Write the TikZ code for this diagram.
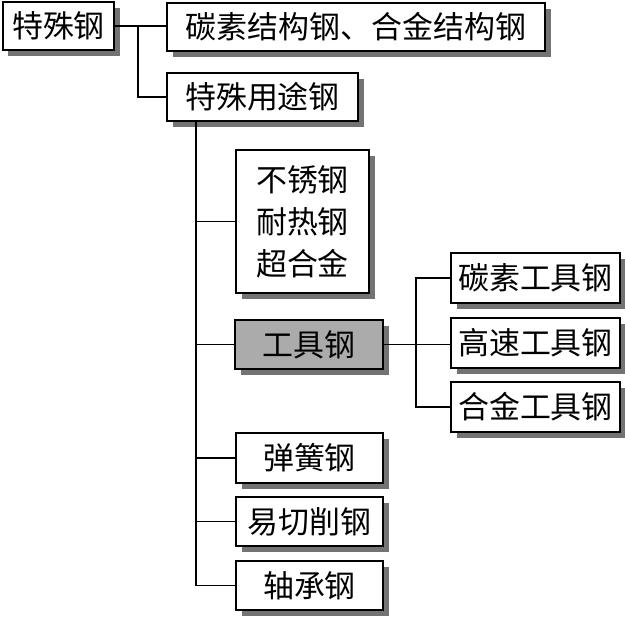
\documentclass[tikz,border=0pt]{standalone}
\usepackage{fontspec}
\newfontfamily\cjk{Noto Sans CJK SC}
\usetikzlibrary{shadows}

\begin{document}
\begin{tikzpicture}[
        box/.style ={draw, line width=1.1pt, fill=white, inner sep=0pt, align=center,
                     font=\cjk\fontsize{17.6}{24}\selectfont,
                     drop shadow={shadow xshift=0.11cm, shadow yshift=-0.11cm,
                                  fill=black!55, opacity=1}},
        link/.style={line width=1.1pt}]
    \useasboundingbox (0,0) rectangle (12.5,-12.38);

    %--- Nodes ---
    \node[box, minimum width=2.22cm, minimum height=0.96cm] (tsg)  at (1.17,-0.52) {特殊钢};
    \node[box, minimum width=7.56cm, minimum height=0.96cm] (jgg)  at (7.12,-0.54) {碳素结构钢、合金结构钢};
    \node[box, minimum width=3.82cm, minimum height=0.96cm] (ytg)  at (5.25,-1.94) {特殊用途钢};
    \node[box, minimum width=2.66cm, minimum height=2.86cm] (bxg)  at (6.05,-4.43) {不锈钢\\耐热钢\\超合金};
    \node[box, minimum width=2.96cm, minimum height=0.98cm, fill=black!33] (gjg) at (6.18,-6.89) {工具钢};
    \node[box, minimum width=3.38cm, minimum height=1.00cm] (tsgj) at (10.71,-5.56) {碳素工具钢};
    \node[box, minimum width=3.38cm, minimum height=1.00cm] (gsgj) at (10.71,-6.86) {高速工具钢};
    \node[box, minimum width=3.38cm, minimum height=1.00cm] (hjgj) at (10.71,-8.14) {合金工具钢};
    \node[box, minimum width=2.94cm, minimum height=1.00cm] (thg)  at (6.19,-9.16) {弹簧钢};
    \node[box, minimum width=2.94cm, minimum height=0.98cm] (qxg)  at (6.19,-10.43) {易切削钢};
    \node[box, minimum width=2.94cm, minimum height=0.98cm] (zcg)  at (6.19,-11.71) {轴承钢};

    %--- Junctions ---
    \coordinate (j1)    at (2.76,-0.52);
    \coordinate (trunk) at (3.92,0);
    \coordinate (j2)    at (8.32,0);

    %--- Top level ---
    \draw[link] (tsg.east) -- (tsg.east -| jgg.west);
    \draw[link] (j1) |- (ytg.west);

    %--- Special-purpose branch ---
    \draw[link] (ytg.south -| trunk) |- (zcg.west);
    \foreach \n in {bxg,gjg,thg,qxg}
        \draw[link] (trunk |- \n.west) -- (\n.west);

    %--- Tool steels ---
    \draw[link] (gjg.east) -- (gjg.east -| gsgj.west);
    \draw[link] (tsgj.west) -| (j2 |- hjgj.west) -- (hjgj.west);

\end{tikzpicture}
\end{document}
